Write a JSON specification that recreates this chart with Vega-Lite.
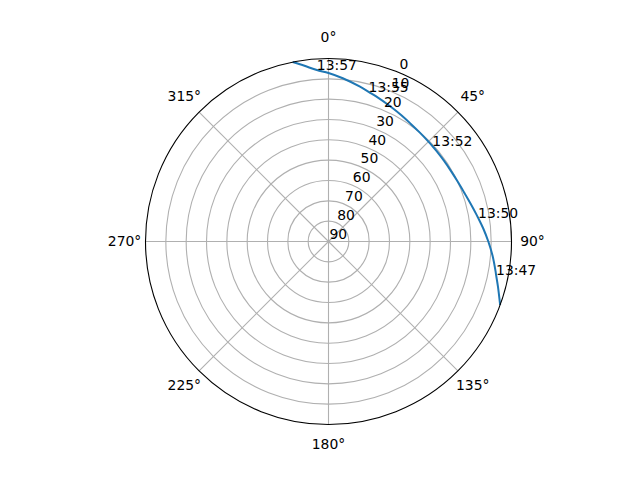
{
  "$schema": "https://vega.github.io/schema/vega-lite/v6.json",
  "width": 366,
  "height": 366,
  "autosize": {"type": "none"},
  "padding": {"left": 145.5, "top": 58.5, "right": 128.5, "bottom": 55.5},
  "background": "white",
  "config": {
    "view": {"stroke": null},
    "text": {"font": "DejaVu Sans", "fontSize": 13.9, "color": "black"}
  },
  "datasets": {
    "rings": [
      {"el": 0}, {"el": 10}, {"el": 20}, {"el": 30}, {"el": 40},
      {"el": 50}, {"el": 60}, {"el": 70}, {"el": 80}, {"el": 90}
    ],
    "spokes": [
      {"angle": 0, "label": "0°"}, {"angle": 45, "label": "45°"},
      {"angle": 90, "label": "90°"}, {"angle": 135, "label": "135°"},
      {"angle": 180, "label": "180°"}, {"angle": 225, "label": "225°"},
      {"angle": 270, "label": "270°"}, {"angle": 315, "label": "315°"}
    ],
    "track": [
      {"i": 0, "az": 348.7, "el": 0.0},
      {"i": 1, "az": 352.0, "el": 2.6},
      {"i": 2, "az": 356.1, "el": 5.5, "time": "13:57"},
      {"i": 3, "az": 0.0, "el": 7.1},
      {"i": 4, "az": 5.0, "el": 9.4},
      {"i": 5, "az": 11.5, "el": 12.3},
      {"i": 6, "az": 15.0, "el": 13.8, "time": "13:55"},
      {"i": 7, "az": 18.0, "el": 14.8},
      {"i": 8, "az": 24.5, "el": 16.9},
      {"i": 9, "az": 30.0, "el": 18.3},
      {"i": 10, "az": 35.0, "el": 19.4},
      {"i": 11, "az": 40.0, "el": 20.1},
      {"i": 12, "az": 45.0, "el": 20.5},
      {"i": 13, "az": 47.4, "el": 20.6, "time": "13:52"},
      {"i": 14, "az": 50.0, "el": 20.7},
      {"i": 15, "az": 55.0, "el": 20.7},
      {"i": 16, "az": 60.0, "el": 20.5},
      {"i": 17, "az": 65.0, "el": 20.0},
      {"i": 18, "az": 70.0, "el": 19.1},
      {"i": 19, "az": 75.0, "el": 17.7},
      {"i": 20, "az": 80.0, "el": 15.9},
      {"i": 21, "az": 81.0, "el": 15.5, "time": "13:50"},
      {"i": 22, "az": 85.0, "el": 13.7},
      {"i": 23, "az": 90.0, "el": 11.4},
      {"i": 24, "az": 95.0, "el": 9.0},
      {"i": 25, "az": 100.0, "el": 6.6},
      {"i": 26, "az": 101.2, "el": 6.0, "time": "13:47"},
      {"i": 27, "az": 105.0, "el": 3.7},
      {"i": 28, "az": 110.3, "el": 0.0}
    ]
  },
  "layer": [
    {
      "data": {"name": "rings"},
      "transform": [
        {"filter": "datum.el > 0 && datum.el < 90"},
        {"calculate": "0", "as": "cx"},
        {"calculate": "90 - datum.el", "as": "d"}
      ],
      "mark": {"type": "point", "shape": "circle", "filled": false, "stroke": "#b0b0b0", "strokeWidth": 1.1, "opacity": 1},
      "encoding": {
        "x": {"field": "cx", "type": "quantitative", "scale": {"domain": [-90, 90]}, "axis": null},
        "y": {"field": "cx", "type": "quantitative", "scale": {"domain": [-90, 90]}, "axis": null},
        "size": {
          "field": "d",
          "type": "quantitative",
          "scale": {"type": "pow", "exponent": 2, "domain": [0, 90], "range": [0, 133956]},
          "legend": null
        }
      }
    },
    {
      "data": {"name": "spokes"},
      "transform": [
        {"calculate": "0", "as": "cx"},
        {"calculate": "90 * sin(datum.angle * PI / 180)", "as": "sx"},
        {"calculate": "90 * cos(datum.angle * PI / 180)", "as": "sy"}
      ],
      "mark": {"type": "rule", "stroke": "#b0b0b0", "strokeWidth": 1.1},
      "encoding": {
        "x": {"field": "cx", "type": "quantitative", "scale": {"domain": [-90, 90]}, "axis": null},
        "y": {"field": "cx", "type": "quantitative", "scale": {"domain": [-90, 90]}, "axis": null},
        "x2": {"field": "sx"},
        "y2": {"field": "sy"}
      }
    },
    {
      "data": {"name": "track"},
      "transform": [
        {"calculate": "(90 - datum.el) * sin(datum.az * PI / 180)", "as": "px"},
        {"calculate": "(90 - datum.el) * cos(datum.az * PI / 180)", "as": "py"}
      ],
      "mark": {"type": "line", "stroke": "#1f77b4", "strokeWidth": 2, "interpolate": "catmull-rom"},
      "encoding": {
        "x": {"field": "px", "type": "quantitative", "scale": {"domain": [-90, 90]}, "axis": null},
        "y": {"field": "py", "type": "quantitative", "scale": {"domain": [-90, 90]}, "axis": null},
        "order": {"field": "i", "type": "quantitative"}
      }
    },
    {
      "data": {"name": "rings"},
      "transform": [{"filter": "datum.el == 0"}],
      "mark": {"type": "arc", "filled": false, "stroke": "black", "strokeWidth": 1.1},
      "encoding": {
        "theta": {"value": 0},
        "theta2": {"value": 6.2832},
        "radius": {
          "field": "el",
          "type": "quantitative",
          "scale": {"type": "linear", "domain": [90, 0], "range": [0, 183]}
        }
      }
    },
    {
      "data": {"name": "spokes"},
      "transform": [
        {"calculate": "100.3 * sin(datum.angle * PI / 180)", "as": "lx"},
        {"calculate": "100.3 * cos(datum.angle * PI / 180)", "as": "ly"}
      ],
      "mark": {"type": "text", "align": "center", "baseline": "middle"},
      "encoding": {
        "x": {"field": "lx", "type": "quantitative", "scale": {"domain": [-90, 90]}, "axis": null},
        "y": {"field": "ly", "type": "quantitative", "scale": {"domain": [-90, 90]}, "axis": null},
        "text": {"field": "label", "type": "nominal"}
      }
    },
    {
      "data": {"name": "rings"},
      "transform": [
        {"calculate": "(90 - datum.el) * sin(22.5 * PI / 180)", "as": "rx"},
        {"calculate": "(90 - datum.el) * cos(22.5 * PI / 180)", "as": "ry"}
      ],
      "mark": {"type": "text", "align": "left", "baseline": "bottom", "dx": 1},
      "encoding": {
        "x": {"field": "rx", "type": "quantitative", "scale": {"domain": [-90, 90]}, "axis": null},
        "y": {"field": "ry", "type": "quantitative", "scale": {"domain": [-90, 90]}, "axis": null},
        "text": {"field": "el", "type": "quantitative"}
      }
    },
    {
      "data": {"name": "track"},
      "transform": [
        {"filter": "datum.time != null"},
        {"calculate": "(90 - datum.el) * sin(datum.az * PI / 180)", "as": "px"},
        {"calculate": "(90 - datum.el) * cos(datum.az * PI / 180)", "as": "py"}
      ],
      "mark": {"type": "text", "align": "left", "baseline": "alphabetic"},
      "encoding": {
        "x": {"field": "px", "type": "quantitative", "scale": {"domain": [-90, 90]}, "axis": null},
        "y": {"field": "py", "type": "quantitative", "scale": {"domain": [-90, 90]}, "axis": null},
        "text": {"field": "time", "type": "nominal"}
      }
    }
  ]
}
